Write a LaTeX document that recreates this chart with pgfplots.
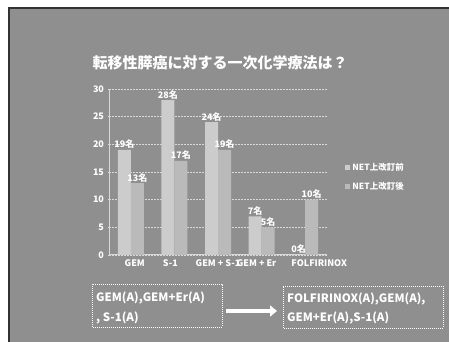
\documentclass[border=0pt]{standalone}
\usepackage{pgfplots}
\pgfplotsset{compat=1.18}
\usepackage{fontspec}
\setmainfont{Noto Sans CJK JP}
\usetikzlibrary{arrows.meta}
\definecolor{bgc}{gray}{0.56}
\definecolor{barA}{gray}{0.80}
\definecolor{barB}{gray}{0.73}
\begin{document}
\begin{tikzpicture}[x=1pt,y=1pt]
\path[use as bounding box] (0,0) rectangle (449,342);
\fill[white] (0,0) rectangle (449,342);
\fill[bgc] (9,0) rectangle (449,334);
\draw[black!80, line width=1.5pt] (9,0) -- (9,334) -- (449,334);
\node[text=white, font=\bfseries\fontsize{15}{18}\selectfont] at (220,279) {転移性膵癌に対する一次化学療法は？};
\begin{axis}[
  at={(109pt,87pt)}, anchor=south west,
  scale only axis, width=218pt, height=166pt,
  ymin=0, ymax=30, xmin=-0.5, xmax=4.5,
  ytick={0,5,...,30},
  xtick={0,...,4},
  xticklabels={\hspace*{8pt}GEM,S-1\hspace*{8pt},GEM + S-1,GEM + Er\hspace*{10pt},\hspace*{28pt}FOLFIRINOX},
  ybar=0pt, bar width=13pt,
  axis lines=left,
  axis line style={-, draw=white!85!black, line width=1pt},
  ymajorgrids,
  grid style={draw=white!85!black, dash pattern=on 2pt off 1pt, line width=0.8pt},
  x tick style={draw=none},
  y tick style={draw=white!85!black, line width=0.8pt},
  major tick length=3pt,
  tick label style={text=white, font=\bfseries\fontsize{9}{10}\selectfont},
  /pgf/number format/assume math mode=true,
  nodes near coords={\pgfmathprintnumber{\pgfplotspointmeta}名},
  nodes near coords style={text=white, font=\bfseries\fontsize{9}{10}\selectfont, inner sep=1pt},
  legend style={at={(1.07,0.47)}, anchor=west, fill=none, draw=none, text=white,
    font=\bfseries\fontsize{8.5}{10}\selectfont, row sep=6pt, legend cell align=left},
  legend image code/.code={\fill[#1] (0pt,-2.5pt) rectangle (5pt,2.5pt);},
  clip=false,
]
\addplot[fill=barA, draw=none] coordinates {(0,19) (1,28) (2,24) (3,7) (4,0)};
\addplot[fill=barB, draw=none] coordinates {(0,13) (1,17) (2,19) (3,5) (4,10)};
\legend{NET上改訂前,NET上改訂後}
\end{axis}
\draw[white, dash pattern=on 1pt off 1pt, line width=0.8pt] (92,15) rectangle (222,58);
\node[anchor=west, text=white, font=\bfseries\fontsize{11.5}{13}\selectfont, inner sep=0pt] at (96,44) {GEM(A),GEM+Er(A)};
\node[anchor=west, text=white, font=\bfseries\fontsize{11.5}{13}\selectfont, inner sep=0pt] at (96,24) {, S-1(A)};
\draw[white, line width=4pt, -{Triangle[length=7pt,width=11pt]}] (226,31) -- (277,31);
\draw[white, dash pattern=on 1pt off 1pt, line width=0.8pt] (283,14) rectangle (443,56);
\node[anchor=west, text=white, font=\bfseries\fontsize{11.5}{13}\selectfont, inner sep=0pt] at (287,43) {FOLFIRINOX(A),GEM(A),};
\node[anchor=west, text=white, font=\bfseries\fontsize{11.5}{13}\selectfont, inner sep=0pt] at (287,24) {GEM+Er(A),S-1(A)};
\end{tikzpicture}
\end{document}
